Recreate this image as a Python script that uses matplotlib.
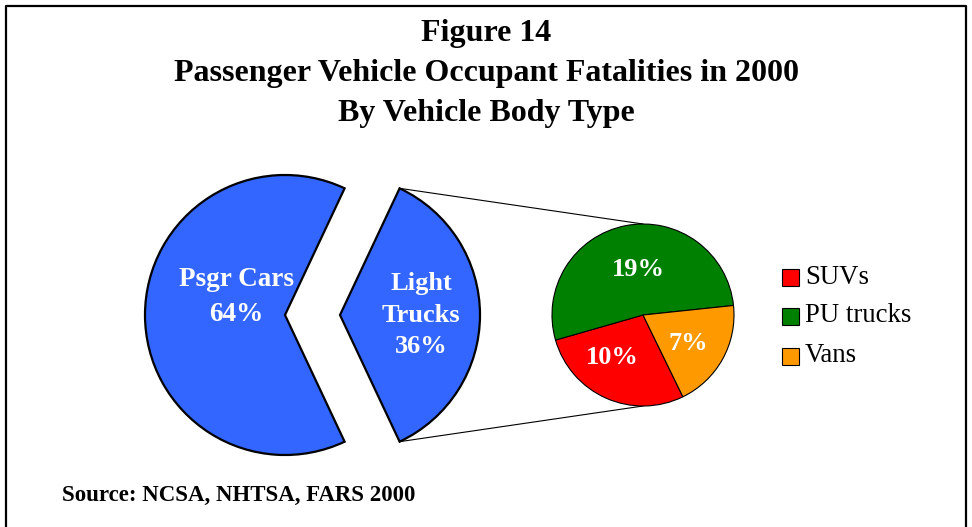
import matplotlib
matplotlib.use('Agg')
import matplotlib.pyplot as plt
import numpy as np
from matplotlib.patches import Rectangle

plt.rcParams['font.family'] = ['Liberation Serif', 'DejaVu Serif']

# data
main_labels = ['Psgr Cars', 'Light\nTrucks']
main_values = [64, 36]
sub_labels = ['SUVs', 'PU trucks', 'Vans']
sub_values = [10, 19, 7]
sub_colors = ['#FF0000', '#008000', '#FF9900']
blue = '#3366FF'

W, H = 972, 527
fig = plt.figure(figsize=(W / 100, H / 100), dpi=100)
ax = fig.add_axes([0, 0, 1, 1])

# main pie, light trucks pulled out (explode is in data units here)
main_c = (285, H - 315)
main_r = 140
start = 180 - main_values[0] / sum(main_values) * 360 / 2
wedges, _ = ax.pie(main_values, colors=[blue, blue], startangle=start, counterclock=True,
                   center=main_c, radius=main_r, explode=[0, 55],
                   wedgeprops=dict(edgecolor='black', linewidth=1.6), frame=True)

# secondary pie
sub_c = (643, H - 315)
sub_r = 91
sub_w, _ = ax.pie(sub_values, colors=sub_colors, startangle=296, counterclock=False,
                  center=sub_c, radius=sub_r,
                  wedgeprops=dict(edgecolor='black', linewidth=0.8), frame=True)

ax.set_xlim(0, W)
ax.set_ylim(0, H)
ax.set_aspect('equal')
ax.axis('off')

# frame round the chart (bottom edge is cut off in the original)
ax.plot([5.5, 5.5, 965.5, 965.5], [0, H - 5.5, H - 5.5, 0], color='black', lw=1.6, clip_on=False)

# titles
ax.text(486, H - 33, 'Figure 14', ha='center', va='center', fontsize=23, fontweight='bold')
ax.text(486, H - 73, 'Passenger Vehicle Occupant Fatalities in 2000', ha='center', va='center',
        fontsize=23, fontweight='bold')
ax.text(486, H - 113, 'By Vehicle Body Type', ha='center', va='center', fontsize=23, fontweight='bold')

pct_main = ['%d%%' % v for v in main_values]
ax.text(236, H - 297, main_labels[0] + '\n' + pct_main[0], color='white', ha='center', va='center',
        fontsize=19.5, fontweight='bold', linespacing=1.5)
ax.text(421, H - 315, main_labels[1] + '\n' + pct_main[1], color='white', ha='center', va='center',
        fontsize=19, fontweight='bold', linespacing=1.45)

sub_pos = [(612, 358), (638, 269), (688, 344)]
for v, (x, y) in zip(sub_values, sub_pos):
    ax.text(x, H - y, '%d%%' % v, color='white', ha='center', va='center', fontsize=19, fontweight='bold')

# connector lines from light trucks slice to secondary pie
lt = wedges[1]
cx, cy = lt.center
for ang, sy in [(lt.theta2, sub_r), (lt.theta1, -sub_r)]:
    px = cx + lt.r * np.cos(np.radians(ang))
    py = cy + lt.r * np.sin(np.radians(ang))
    ax.plot([px, sub_c[0]], [py, sub_c[1] + sy], color='black', lw=0.8, zorder=0)

# legend
leg_y = [277, 316, 356]
for lab, col, y in zip(sub_labels, sub_colors, leg_y):
    ax.add_patch(Rectangle((782, H - y - 8.5), 17, 17, facecolor=col, edgecolor='black', lw=0.8))
    ax.text(805, H - y, lab, ha='left', va='center', fontsize=19.3)

ax.text(62, H - 495, 'Source: NCSA, NHTSA, FARS 2000', ha='left', va='center', fontsize=16.5,
        fontweight='bold')

fig.savefig('out.png', dpi=100)
